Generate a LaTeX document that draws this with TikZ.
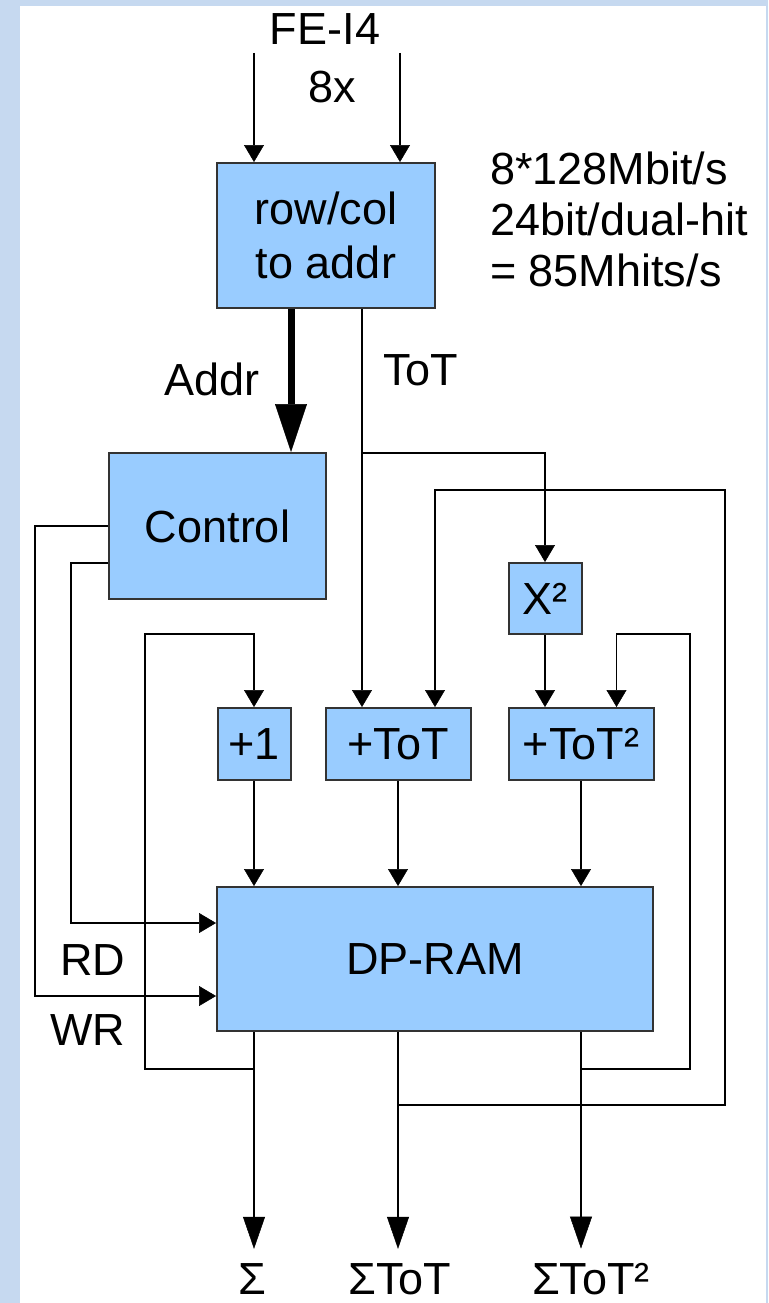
\documentclass[tikz,border=0pt]{standalone}
\usepackage{fontspec}
\setmainfont{Liberation Sans}
\usepackage{tikz}
\usetikzlibrary{arrows.meta, positioning, calc}
\definecolor{boxblue}{RGB}{153,204,255}
\definecolor{pageblue}{RGB}{198,217,240}

\begin{document}
\begin{tikzpicture}[
    x=1pt, y=-1pt,
    big/.style={font=\fontsize{45}{54}\selectfont},
    block/.style={draw=black!80, line width=2pt, fill=boxblue, inner sep=0pt, align=center, big},
    wire/.style={line width=1.5pt},
    arr/.style={wire, -{Triangle[width=20pt, length=17pt, line width=0.5pt]}},
    outarr/.style={wire, -{Triangle[width=22pt, length=32pt, line width=0.5pt]}},
    busarr/.style={line width=7pt, -{Triangle[width=32pt, length=48pt, line width=0.5pt]}},
    lbl/.style={big, inner sep=0pt},
]
% page
\fill[pageblue] (0,0) rectangle (768,1303);
\fill[white] (20,6) rectangle (766,1303);
\useasboundingbox (0,0) rectangle (768,1303);

% blocks
\node[block, minimum width=218pt, minimum height=145pt] (rowcol) at (326,235.5) {row/col\\to addr};
\node[block, minimum width=217pt, minimum height=146pt] (ctrl) at (217.5,526) {Control};
\node[block, minimum width=73pt, minimum height=71pt] (sq) at (545,598.5) {X²};
\node[block, minimum width=73pt, minimum height=72pt] (inc) at (254,744) {+1};
\node[block, minimum width=145pt, minimum height=72pt] (addtot) at (398,744) {+ToT};
\node[block, minimum width=145pt, minimum height=72pt] (addsq) at (581,744) {+ToT²};
\node[block, minimum width=436pt, minimum height=144pt] (ram) at (435,959) {DP-RAM};

% texts
\node[lbl, anchor=base] (fe) at (325,45) {FE-I4};
\node[lbl, anchor=base] (mult) at (332,103) {8x};
\node[lbl, anchor=base] (addr-lbl) at (212,395) {Addr};
\node[lbl, anchor=base west] (tot-lbl) at (383,385) {ToT};
\node[lbl, anchor=north west, align=left, font=\fontsize{45}{51}\selectfont] (rate) at (490,152)
    {8*128Mbit/s\\24bit/dual-hit\\= 85Mhits/s};
\node[lbl, anchor=base] (rd) at (93,975) {RD};
\node[lbl, anchor=base] (wr) at (88,1045) {WR};
\node[lbl, anchor=base] (out-sum) at (252,1294) {Σ};
\node[lbl, anchor=base] (out-tot) at (400,1294) {ΣToT};
\node[lbl, anchor=base] (out-tot2) at (591,1294) {ΣToT²};

% bends and taps
\coordinate (fe-a) at (254,53);
\coordinate (fe-b) at (400,53);
\coordinate (tot-tap) at (362,453);
\coordinate (sum-tap) at (254,1069);
\coordinate (cnt-loop) at (145,634);
\coordinate (tot-tap2) at (398,1105);
\coordinate (tot-loop) at (725,490);
\coordinate (sq-tap) at (581,1069);
\coordinate (sq-loop) at (690,634);

% inputs
\draw[arr] (fe-a) -- (fe-a |- rowcol.north);
\draw[arr] (fe-b) -- (fe-b |- rowcol.north);
\draw[busarr] ([xshift=-35pt]rowcol.south) -- ([xshift=73.5pt]ctrl.north);
\draw[arr] ([xshift=36pt]rowcol.south) -- ([xshift=-36pt]addtot.north);
\draw[arr] (tot-tap) -| (sq.north);
\draw[arr] (sq.south) -- ([xshift=-36pt]addsq.north);

% adders to ram
\draw[arr] (inc.south) -- (inc.south |- ram.north);
\draw[arr] (addtot.south) -- (addtot.south |- ram.north);
\draw[arr] (addsq.south) -- (addsq.south |- ram.north);

% control lines
\draw[arr] (ctrl.west) -- ++(-73,0) |- ([yshift=-37pt]ram.west);
\draw[arr] ([yshift=-37pt]ctrl.west) -- ++(-37,0) |- ([yshift=36pt]ram.west);

% outputs
\draw[outarr, shorten >=14pt] (inc.south |- ram.south) -- (inc.south |- out-sum.north);
\draw[outarr, shorten >=14pt] (addtot.south |- ram.south) -- (addtot.south |- out-tot.north);
\draw[outarr, shorten >=14pt] (addsq.south |- ram.south) -- (addsq.south |- out-tot2.north);

% feedback
\draw[arr] (sum-tap) -| (cnt-loop) -| (inc.north);
\draw[arr] (tot-tap2) -| (tot-loop) -| ([xshift=37pt]addtot.north);
\draw[arr] (sq-tap) -| (sq-loop) -| ([xshift=35.5pt]addsq.north);
\end{tikzpicture}
\end{document}
